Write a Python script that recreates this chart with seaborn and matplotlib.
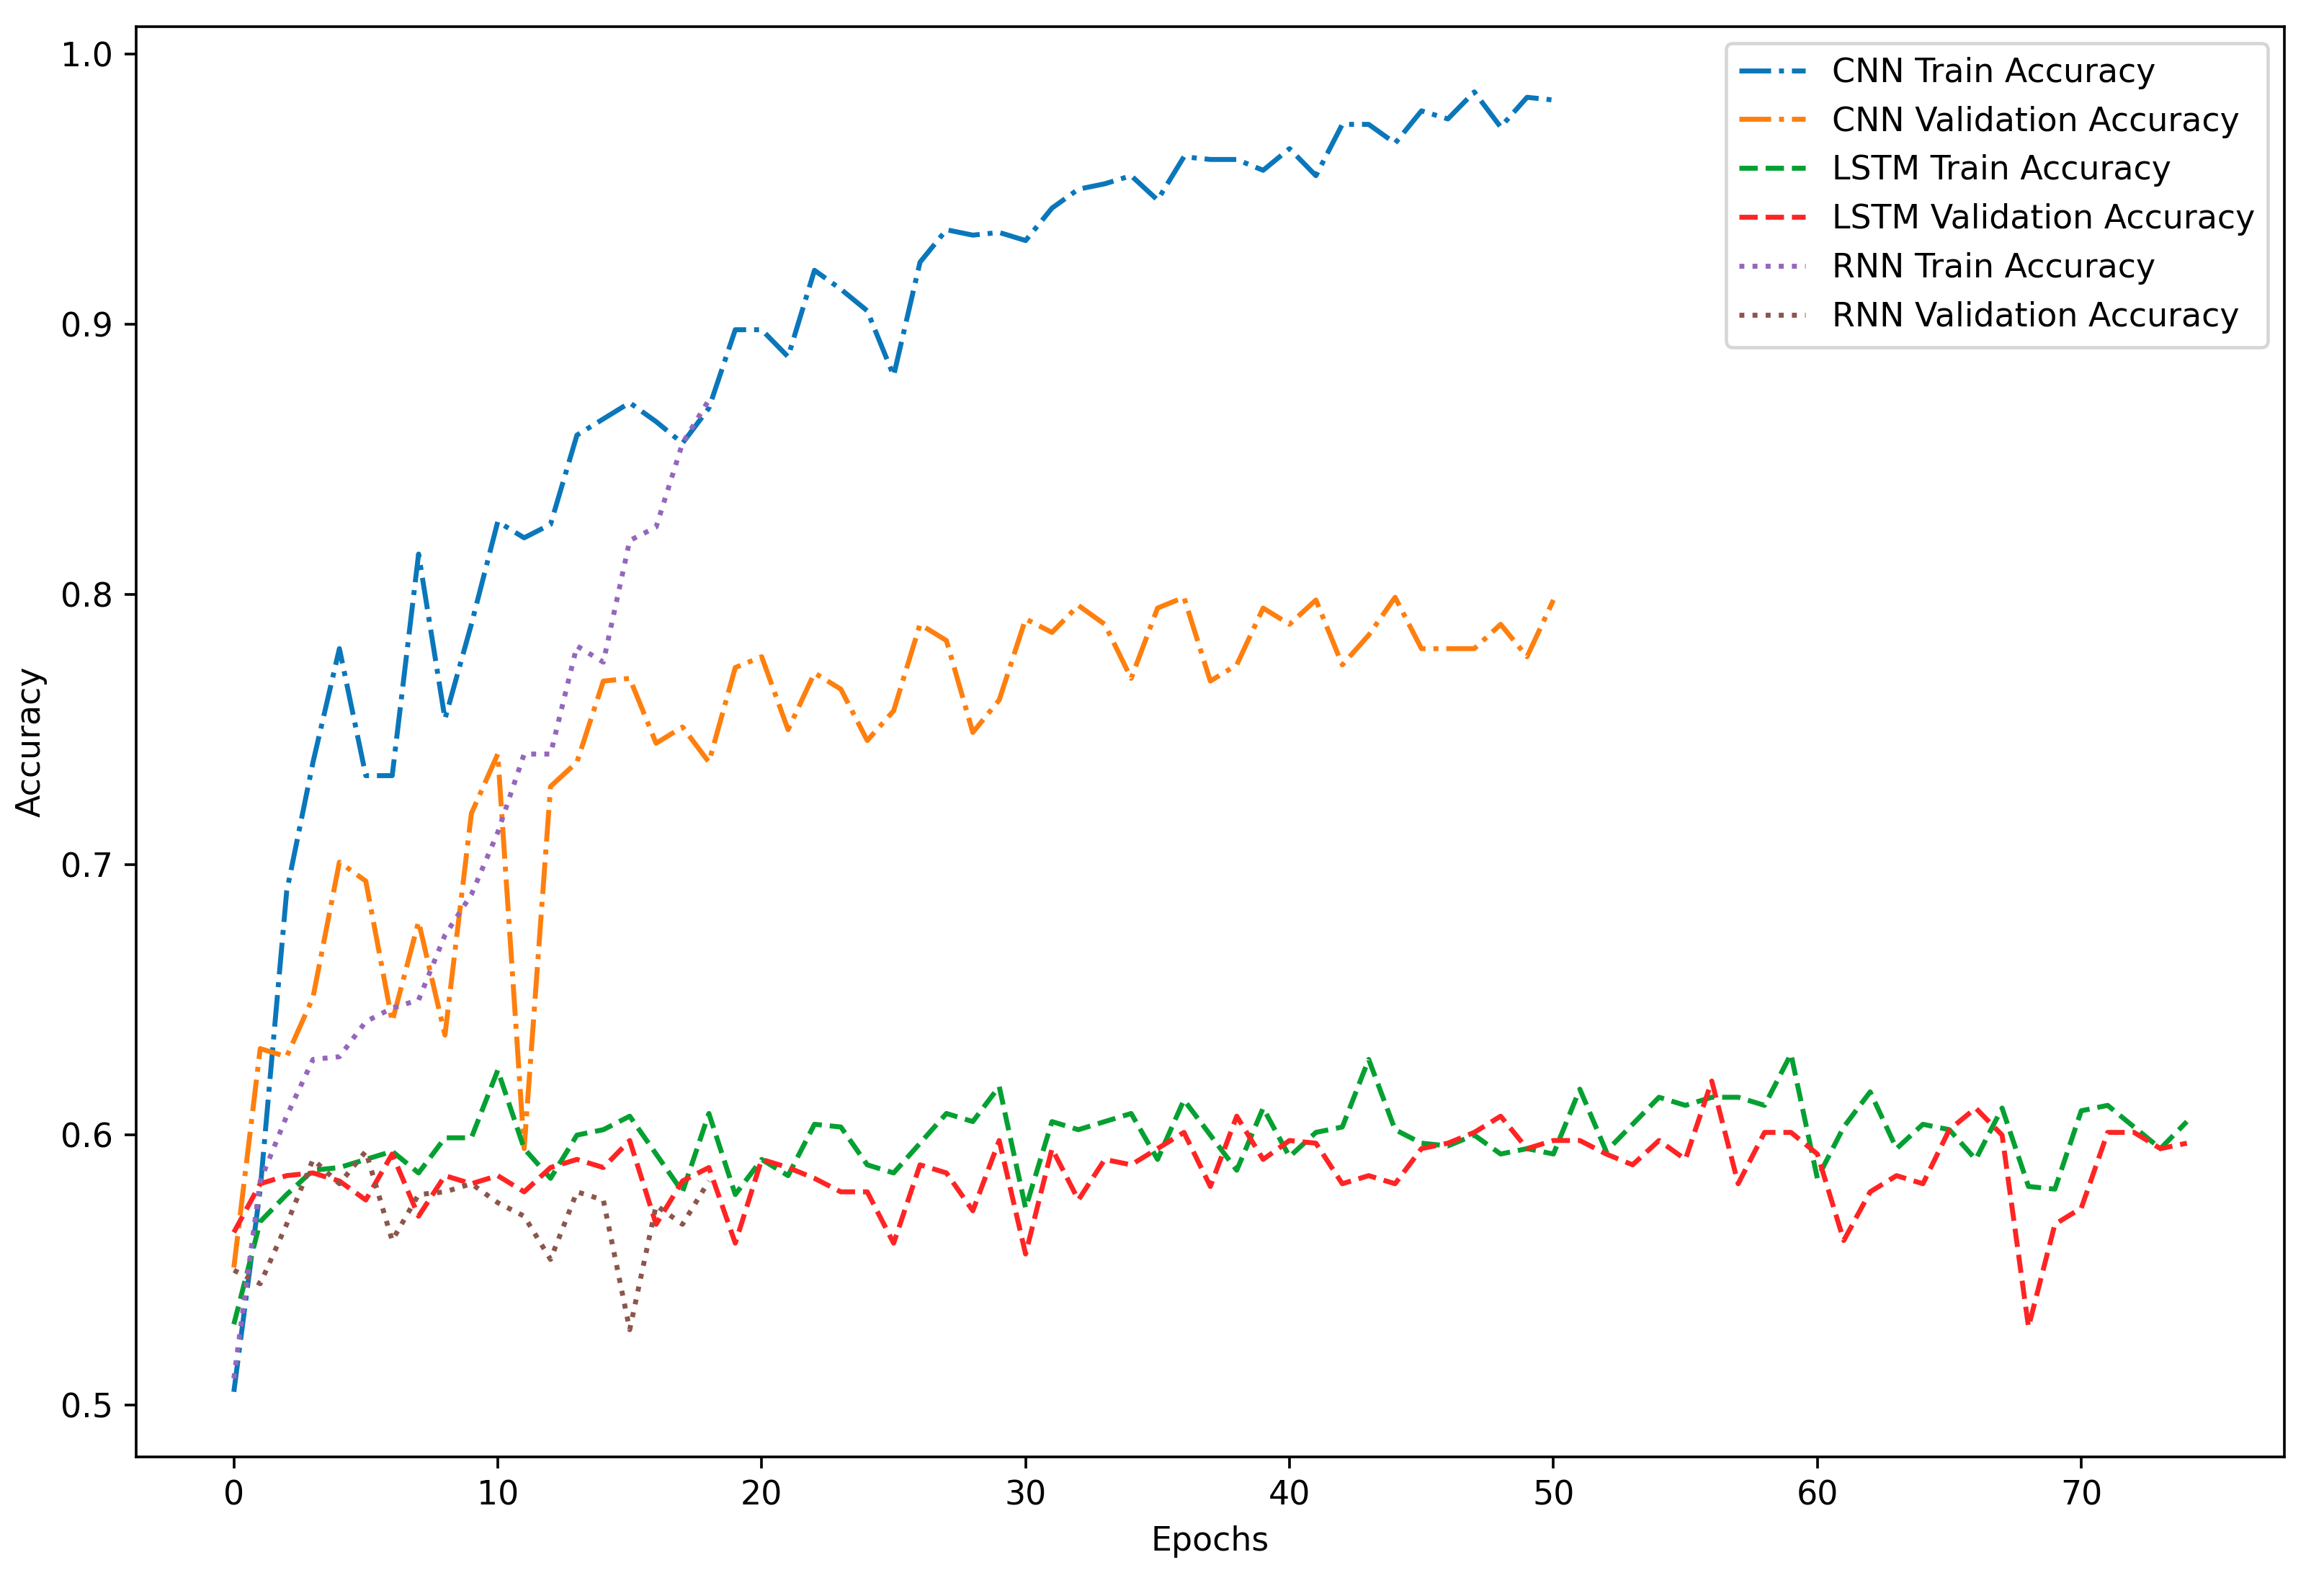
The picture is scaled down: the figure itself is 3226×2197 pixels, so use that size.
import numpy as np
import pandas as pd
import matplotlib
matplotlib.use("Agg")
import matplotlib.pyplot as plt
import seaborn as sns

# ---- data ----
cnn_train = [0.505, 0.580, 0.690, 0.738, 0.780, 0.733, 0.733, 0.815, 0.754, 0.789,
             0.827, 0.821, 0.826, 0.859, 0.865, 0.871, 0.864, 0.856, 0.869, 0.898,
             0.898, 0.888, 0.920, 0.913, 0.905, 0.881, 0.923, 0.935, 0.933, 0.934,
             0.931, 0.943, 0.950, 0.952, 0.955, 0.946, 0.962, 0.961, 0.961, 0.957,
             0.965, 0.955, 0.974, 0.974, 0.967, 0.979, 0.976, 0.986, 0.973, 0.984,
             0.983]
cnn_val = [0.551, 0.632, 0.629, 0.651, 0.701, 0.694, 0.642, 0.679, 0.637, 0.719,
           0.741, 0.595, 0.729, 0.738, 0.768, 0.769, 0.745, 0.751, 0.738, 0.773,
           0.777, 0.750, 0.771, 0.765, 0.746, 0.757, 0.789, 0.783, 0.749, 0.761,
           0.791, 0.786, 0.796, 0.789, 0.769, 0.795, 0.799, 0.768, 0.774, 0.795,
           0.789, 0.798, 0.774, 0.785, 0.799, 0.780, 0.780, 0.780, 0.789, 0.777,
           0.798]
lstm_train = [0.530, 0.568, 0.578, 0.587, 0.588, 0.591, 0.594, 0.586, 0.599, 0.599,
              0.624, 0.595, 0.584, 0.600, 0.602, 0.607, 0.593, 0.579, 0.608, 0.578,
              0.591, 0.585, 0.604, 0.603, 0.589, 0.586, 0.597, 0.608, 0.605, 0.618,
              0.573, 0.605, 0.602, 0.605, 0.608, 0.591, 0.613, 0.600, 0.587, 0.610,
              0.592, 0.601, 0.603, 0.628, 0.602, 0.597, 0.596, 0.600, 0.593, 0.595,
              0.593, 0.617, 0.594, 0.604, 0.614, 0.611, 0.614, 0.614, 0.611, 0.630,
              0.584, 0.603, 0.616, 0.595, 0.604, 0.602, 0.591, 0.610, 0.581, 0.580,
              0.609, 0.611, 0.603, 0.595, 0.605]
lstm_val = [0.564, 0.582, 0.585, 0.586, 0.583, 0.576, 0.593, 0.570, 0.585, 0.582,
            0.585, 0.579, 0.588, 0.591, 0.588, 0.598, 0.567, 0.583, 0.588, 0.560,
            0.591, 0.588, 0.584, 0.579, 0.579, 0.560, 0.589, 0.586, 0.572, 0.598,
            0.556, 0.595, 0.576, 0.591, 0.589, 0.595, 0.601, 0.581, 0.607, 0.591,
            0.598, 0.597, 0.582, 0.585, 0.582, 0.595, 0.597, 0.601, 0.607, 0.595,
            0.598, 0.598, 0.593, 0.589, 0.598, 0.591, 0.620, 0.582, 0.601, 0.601,
            0.593, 0.561, 0.579, 0.585, 0.582, 0.602, 0.610, 0.600, 0.529, 0.567,
            0.573, 0.601, 0.601, 0.595, 0.597]
rnn_train = [0.510, 0.583, 0.607, 0.628, 0.629, 0.642, 0.647, 0.650, 0.674, 0.689,
             0.712, 0.741, 0.741, 0.781, 0.775, 0.820, 0.825, 0.856, 0.872]
rnn_val = [0.550, 0.545, 0.567, 0.591, 0.582, 0.594, 0.561, 0.578, 0.579, 0.582,
           0.575, 0.570, 0.554, 0.579, 0.576, 0.528, 0.574, 0.567, 0.583]

series_names = ["CNN Train Accuracy", "CNN Validation Accuracy",
                "LSTM Train Accuracy", "LSTM Validation Accuracy",
                "RNN Train Accuracy", "RNN Validation Accuracy"]
series_values = [cnn_train, cnn_val, lstm_train, lstm_val, rnn_train, rnn_val]
colors = ["#0a77bb", "#ff7f0e", "#05a032", "#ff2424", "#9467bd", "#8c564b"]
styles = ["-.", "-.", "--", "--", ":", ":"]

DPI = 330
plt.rcParams['font.family'] = ['DejaVu Sans']
fig, ax = plt.subplots(figsize=(3226 / DPI, 2197 / DPI), dpi=DPI)
fig.subplots_adjust(left=0.0586, right=0.983, top=0.983, bottom=0.0797)

for name, vals, c, ls in zip(series_names, series_values, colors, styles):
    df = pd.DataFrame({"Epochs": np.arange(len(vals)), "Accuracy": vals})
    sns.lineplot(data=df, x="Epochs", y="Accuracy", ax=ax, color=c,
                 linestyle=ls, linewidth=1.5, label=name)

ax.set_xlabel("Epochs")
ax.set_ylabel("Accuracy")
ax.set_xticks([0, 10, 20, 30, 40, 50, 60, 70])
ax.set_yticks([0.5, 0.6, 0.7, 0.8, 0.9, 1.0])
ax.legend(loc="upper right")

fig.savefig("out.png", dpi=DPI)
